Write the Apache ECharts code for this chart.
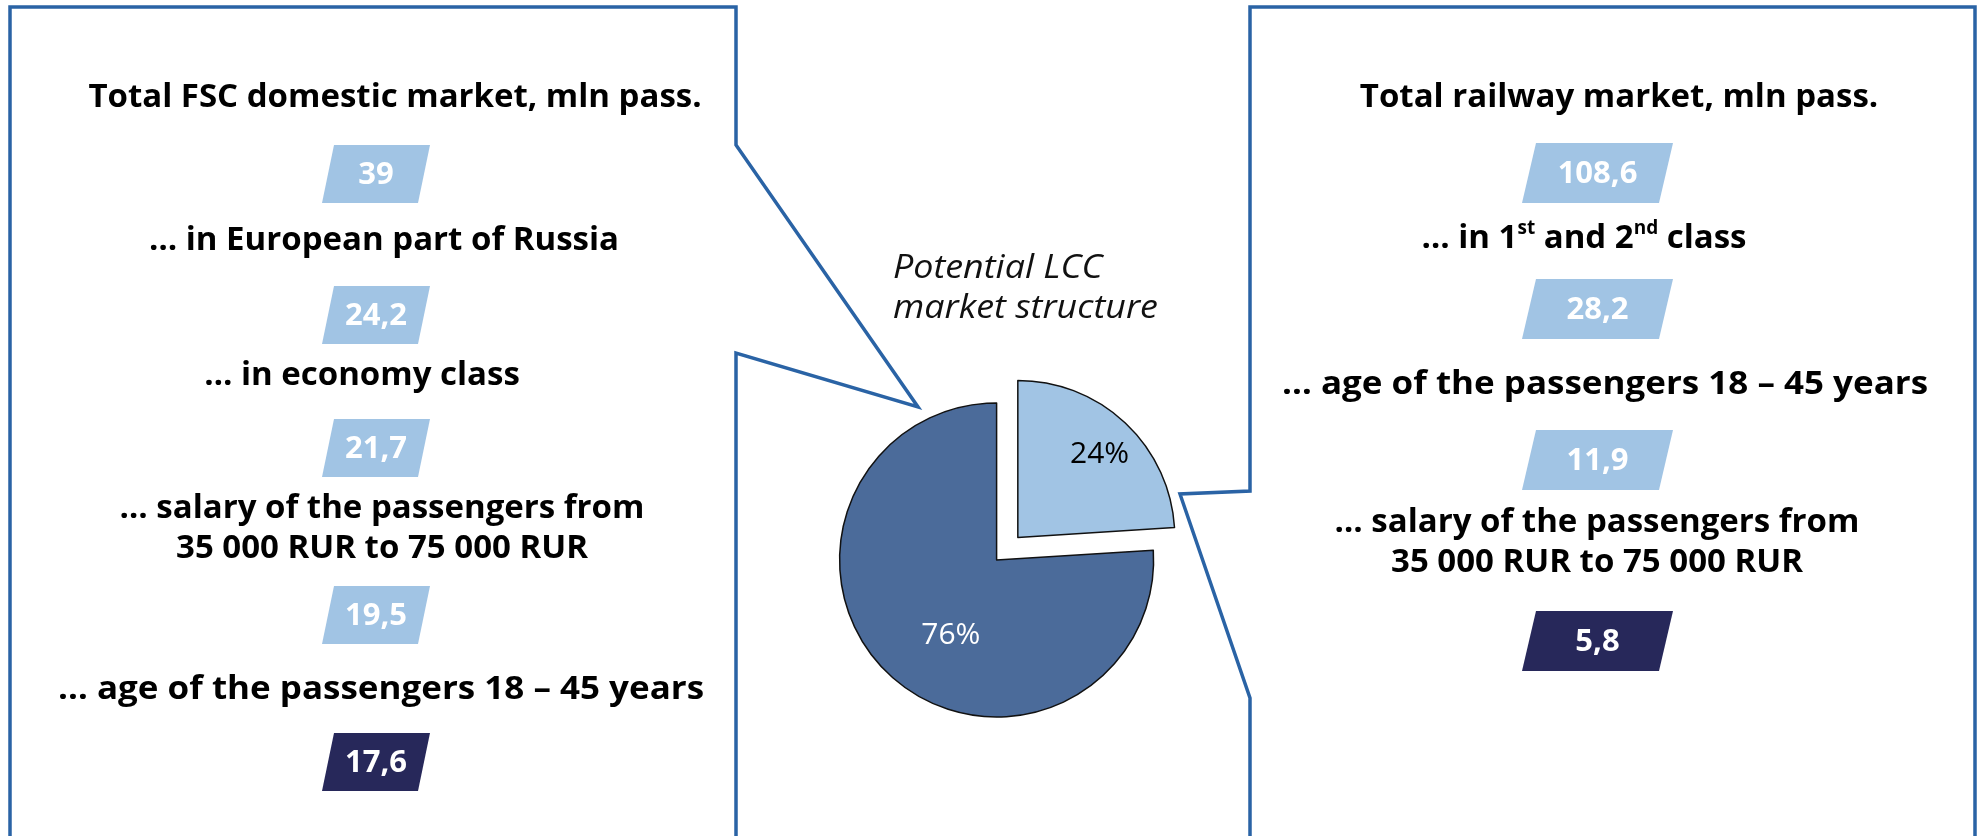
<!DOCTYPE html>
<html>
<head>
<meta charset="utf-8">
<script src="https://cdn.jsdelivr.net/npm/echarts@6/dist/echarts.min.js"></script>
<style>
  html, body { margin: 0; padding: 0; background: #ffffff; }
  #chart { width: 1981px; height: 836px; }
</style>
</head>
<body>
<div id="chart"></div>
<script>
// Air funnel: full-service carriers, mln passengers
const fscSteps = [
  'Total FSC domestic market, mln pass.',
  '\u2026 in European part of Russia',
  '\u2026 in economy class',
  '\u2026 salary of the passengers from\n35 000 RUR to 75 000 RUR',
  '\u2026 age of the passengers 18 \u2013 45 years'
];
const fscValues = [39, 24.2, 21.7, 19.5, 17.6];

// Railway funnel, mln passengers
const railSteps = [
  'Total railway market, mln pass.',
  '\u2026 in 1{sup|st} and 2{sup|nd} class',
  '\u2026 age of the passengers 18 \u2013 45 years',
  '\u2026 salary of the passengers from\n35 000 RUR to 75 000 RUR'
];
const railValues = [108.6, 28.2, 11.9, 5.8];

// Potential LCC market split (percent)
const shareNames = ['Railway', 'FSC'];
const shareValues = [24, 76];

const pieTitle = 'Potential LCC\nmarket structure';

// ---- layout ----
const FONT = '"Open Sans", Lato, sans-serif';
const LINE = '#2A63A5';
const LIGHT = '#A1C4E4';
const DARK = '#27285A';

const fscTextX = [395, 384, 362, 382, 381];
const fscTextY = [98, 241, 376, 529, 690];
const fscTextStretch = [1, 1, 1, 1, 1.06];
const fscBoxTop = [145, 286, 419, 586, 733];
const fscBox = { x: 322, w: 96, h: 58, skew: 12 };

const railTextX = [1619, 1584, 1605, 1597];
const railTextY = [98, 239, 385, 543];
const railTextStretch = [1, 1, 1.06, 1];
const railBoxTop = [143, 279, 430, 611];
const railBox = { x: 1522, w: 137, h: 60, skew: 14 };

const fmt = v => String(v).replace('.', ',');

function stepText(txt, x, y, stretch) {
  return {
    type: 'text', x: x, y: y, z: 10, scaleX: stretch,
    style: {
      text: txt, align: 'center', verticalAlign: 'middle',
      font: 'bold 33px ' + FONT, lineHeight: 40, fill: '#000',
      rich: { sup: { fontSize: 19, fontWeight: 'bold', fontFamily: FONT, verticalAlign: 'top', lineHeight: 30, fill: '#000' } }
    }
  };
}

function valueBox(value, top, box, dark) {
  const x0 = box.x, h = box.h, w = box.w, s = box.skew;
  return [{
    type: 'polygon', z: 5,
    shape: { points: [[x0 + s, top], [x0 + s + w, top], [x0 + w, top + h], [x0, top + h]] },
    style: { fill: dark ? DARK : LIGHT }
  }, {
    type: 'text', z: 11, x: x0 + (w + s) / 2, y: top + h / 2 + 1,
    style: { text: fmt(value), align: 'center', verticalAlign: 'middle', font: 'bold 31px ' + FONT, fill: '#fff' }
  }];
}

const graphics = [];
// callout outlines
graphics.push({
  type: 'polyline', z: 1,
  shape: { points: [[10, 860], [10, 7], [736, 7], [736, 145], [918, 407], [736, 353], [736, 860]] },
  style: { stroke: LINE, lineWidth: 3.5, fill: null, lineJoin: 'miter' }
});
graphics.push({
  type: 'polyline', z: 1,
  shape: { points: [[1250, 860], [1250, 698], [1180, 494], [1250, 491], [1250, 7], [1975, 7], [1975, 860]] },
  style: { stroke: LINE, lineWidth: 3.5, fill: null, lineJoin: 'miter' }
});

// pie heading, slightly widened italic
graphics.push({
  type: 'text', x: 893, y: 249, z: 10, scaleX: 1.12,
  style: {
    text: pieTitle, align: 'left', verticalAlign: 'top',
    fontFamily: FONT, fontStyle: 'italic', fontWeight: 'normal', fontSize: 32, lineHeight: 40, fill: '#111'
  }
});

fscSteps.forEach((t, i) => graphics.push(stepText(t, fscTextX[i], fscTextY[i], fscTextStretch[i])));
fscValues.forEach((v, i) => graphics.push(...valueBox(v, fscBoxTop[i], fscBox, i === fscValues.length - 1)));
railSteps.forEach((t, i) => graphics.push(stepText(t, railTextX[i], railTextY[i], railTextStretch[i])));
railValues.forEach((v, i) => graphics.push(...valueBox(v, railBoxTop[i], railBox, i === railValues.length - 1)));

const sliceColors = [LIGHT, '#4B6B9A'];
const labelColors = ['#000', '#fff'];

const chart = echarts.init(document.getElementById('chart'), null, { renderer: 'canvas' });
chart.setOption({
  animation: false,
  backgroundColor: '#ffffff',
  graphic: graphics,
  series: [{
    type: 'pie',
    center: [996.6, 560],
    radius: 157,
    startAngle: 90,
    clockwise: true,
    selectedMode: 'single',
    selectedOffset: 31,
    avoidLabelOverlap: false,
    emphasis: { disabled: true },
    label: {
      show: true, position: 'inside',
      fontFamily: FONT, fontSize: 30, fontWeight: 'normal',
      formatter: p => Math.round(p.percent) + '%'
    },
    labelLine: { show: false },
    labelLayout: p => p.dataIndex === 0 ? { dx: 26, dy: -24 } : { dx: 10, dy: 16 },
    data: shareValues.map((v, i) => ({
      name: shareNames[i], value: v, selected: i === 0,
      itemStyle: { color: sliceColors[i], borderColor: '#111', borderWidth: 1.5 },
      select: { itemStyle: { color: sliceColors[i], borderColor: '#111', borderWidth: 1.5 } },
      label: { color: labelColors[i] }
    }))
  }]
});
</script>
</body>
</html>
